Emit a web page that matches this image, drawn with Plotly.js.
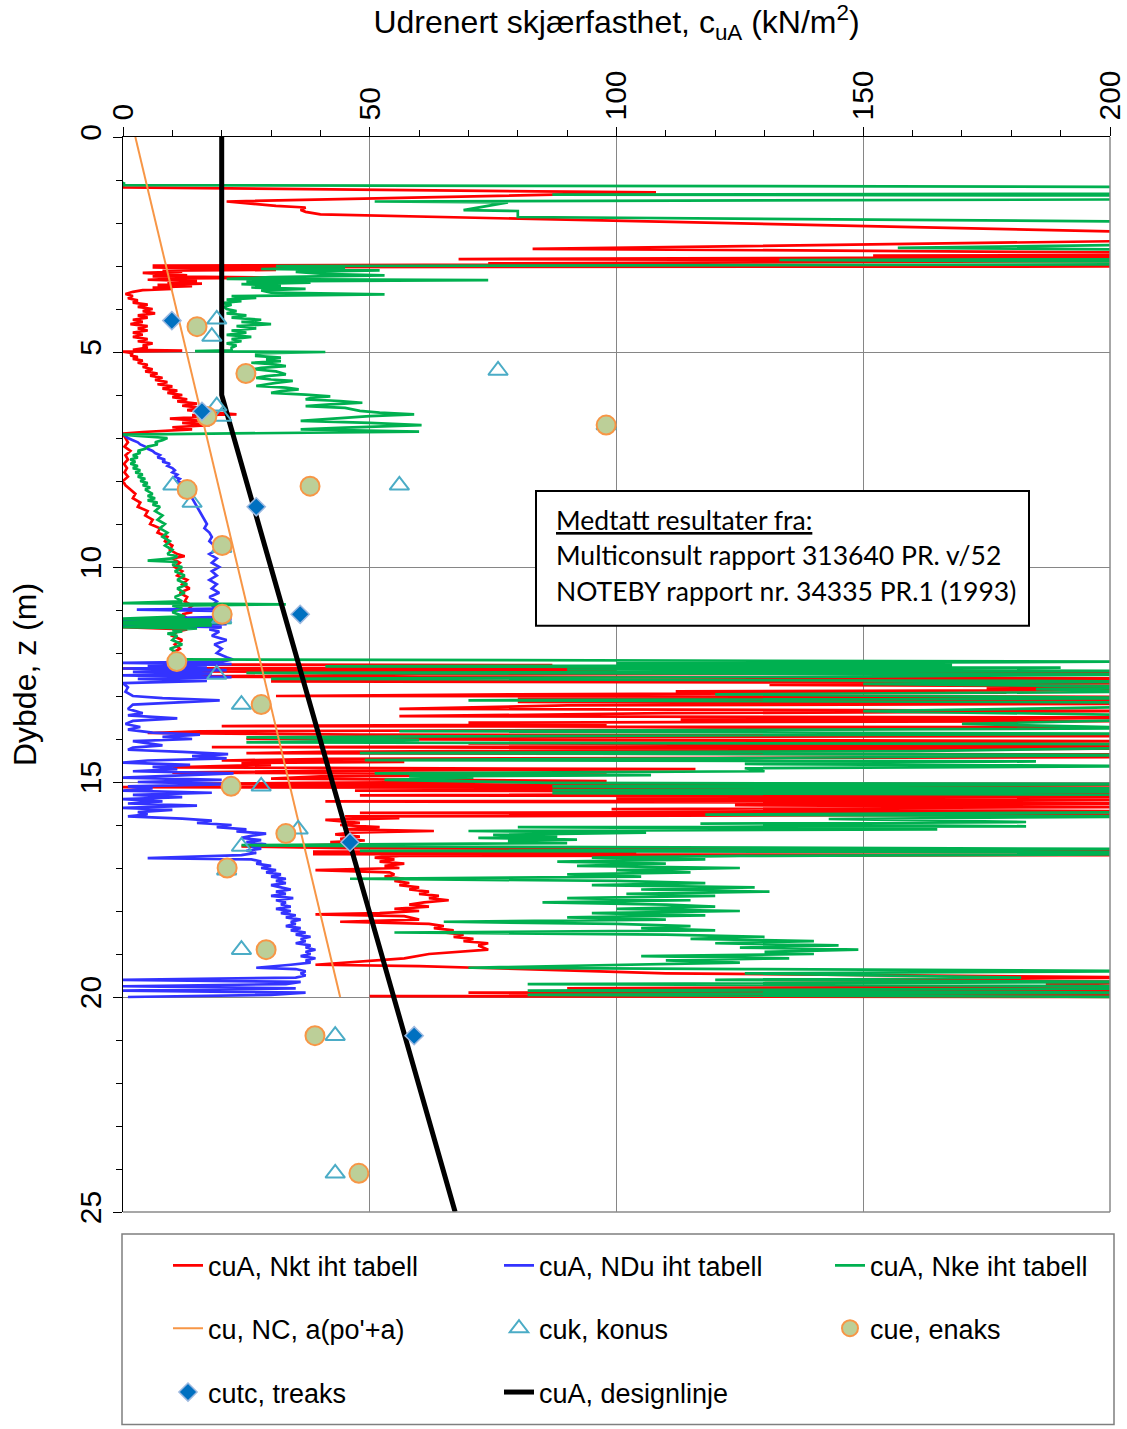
<!DOCTYPE html>
<html>
<head>
<meta charset="utf-8">
<script src="https://cdn.plot.ly/plotly-3.0.1.min.js"></script>
<style>html,body{margin:0;padding:0;background:#fff;}#chart{width:1127px;height:1429px;}</style>
</head>
<body>
<div id="chart"></div>
<script>
// ---- Data: [depth (m), cuA (kN/m2)] ----
const nkt = [
[1.12,0],[1.17,0],[1.29,108],[1.50,21],[1.60,31],[1.64,37],[1.70,36],[1.74,37],[1.80,40],[2.22,210],[2.41,210],[2.60,83],[2.69,210],[2.75,210],[2.76,152],[2.79,210],[2.84,68],[2.88,210],[2.94,74],[2.96,108],[2.99,6],[3.01,210],[3.03,6],
[3.05,14],[3.07,9],[3.09,31],[3.11,8],[3.13,12],[3.16,4],[3.19,10],[3.22,13],[3.24,6],[3.27,32],[3.29,12],[3.32,5],[3.35,15],[3.38,9],[3.41,16],[3.44,7],[3.47,14],[3.50,6],[3.53,10],[3.56,4],[3.60,2],[3.65,0.5],[3.70,2],[3.75,1],[3.80,3],[3.85,2],[3.90,5],[3.95,3],[4.00,6],[4.05,4],[4.10,6.5],[4.15,3],[4.20,5],[4.25,2],[4.30,4],[4.35,1.5],[4.40,5],[4.45,3],[4.50,5],[4.55,2],[4.60,4],[4.65,2],[4.70,5],[4.75,3],[4.80,6],[4.85,4],[4.90,5],[4.95,2],[4.97,12],[4.99,0],[5.03,2],
[5.08,1.5],[5.12,3],[5.16,2],[5.20,4],[5.25,3],[5.30,5],[5.35,4],[5.40,6],[5.45,4.5],[5.50,7],[5.55,5.5],[5.60,8],[5.65,6.5],[5.70,9],[5.75,7],[5.80,10],[5.85,8],[5.90,11],[5.95,9],[6.00,12],[6.05,10],[6.10,13],[6.15,11],[6.20,15],[6.25,12],[6.30,16],[6.35,13],[6.40,17],[6.45,23],[6.47,14],[6.50,17],[6.55,9.5],[6.60,16],[6.65,12],[6.70,17.6],[6.75,10],[6.80,14],[6.86,4],[6.90,0],
[7.00,0.5],[7.10,1],[7.20,0.3],[7.30,1.5],[7.40,0.5],[7.50,1],[7.60,0.2],[7.70,0.8],[7.80,0.3],[7.90,1],[8.00,0],[8.10,0.5],[8.20,1.5],[8.30,2.5],[8.40,2],[8.50,3.5],[8.60,3],[8.70,5],[8.80,4.5],[8.90,6],[9.00,5.5],[9.10,7.5],[9.20,7],[9.30,9],[9.40,8.5],[9.50,10],[9.60,9.5],[9.70,11],[9.75,12.5],[9.80,10],[9.90,11.5],[10.00,10.5],[10.10,12],[10.20,11],[10.30,13],[10.40,12],[10.50,13.5],[10.60,11.5],[10.70,13],[10.80,12.5],[10.90,14],[11.00,13],[11.05,14],[11.10,12],[11.20,13],[11.25,0],[11.28,14],[11.32,0],[11.35,12],[11.40,0],[11.45,13],[11.50,11],[11.60,10],[11.70,12],[11.80,10.5],[11.90,11.5],[12.00,10],[12.10,12],[12.20,11],
[12.25,20],[12.27,17],[12.28,87],[12.30,47],[12.33,114],[12.36,0],[12.40,100],[12.43,14],[12.47,210],[12.50,60],[12.55,11.5],[12.59,210],[12.62,120],[12.66,30],[12.70,210],[12.74,131],[12.78,210],[12.82,175],[12.86,210],[12.89,112],[12.92,179],[12.96,80],[13.00,31],[13.02,210],[13.06,80],[13.10,210],[13.14,80],[13.18,210],[13.22,90],[13.30,56],[13.35,210],[13.40,110],[13.47,56],[13.50,210],[13.55,113],[13.58,210],[13.62,70],[13.66,98],[13.70,20],[13.73,210],[13.78,120],[13.82,15.6],[13.86,5],[13.90,48],[13.93,210],[13.96,30],[14.00,25],[14.05,210],[14.10,70],[14.15,210],[14.19,18],[14.22,210],[14.27,92],[14.30,40],[14.33,25],[14.36,210],[14.42,210],[14.46,42],[14.50,20],[14.53,57],[14.56,24],[14.60,30],[14.66,10],[14.70,116],[14.74,40],[14.78,10],[14.83,98],[14.87,40],[14.92,30],[14.98,98],[15.02,37],[15.05,15],[15.08,210],[15.12,0],[15.15,210],[15.20,47],[15.25,210],[15.31,48],[15.34,210],[15.38,100],[15.42,210],[15.45,41],[15.50,210],[15.54,124],[15.58,210],[15.63,99],[15.68,210],[15.72,48],[15.76,210],[15.80,45],[15.84,56],[15.88,41],[15.95,48],[16.00,44],[16.05,52],[16.10,45],[16.14,63],[16.18,46],[16.22,43],[16.27,48],[16.32,44],[16.36,49],[16.40,42],[16.45,47],[16.50,24],[16.54,45],[16.58,210],[16.62,38.5],[16.65,104],[16.68,38.5],[16.70,210],[16.72,56],[16.76,51],[16.80,55],[16.85,52],[16.90,57],[16.95,53],[17.00,56],[17.05,39],[17.10,54],
[17.15,55],[17.20,53],[17.25,57],[17.30,55],[17.35,58],[17.40,56],[17.45,60],[17.50,58],[17.55,62],[17.60,60],[17.65,64],[17.70,62],[17.75,66],[17.80,61],[17.85,58],[17.90,62],[17.95,55],[18.00,60],[18.05,52],[18.08,39],[18.12,57],[18.20,60],[18.25,44],[18.30,62],[18.35,65],[18.40,63],[18.45,67],[18.50,65],[18.55,69],[18.60,67],[18.65,71],[18.70,69],[18.75,74],[18.80,72],[18.90,74],[18.95,68],[19.00,62],[19.10,57],[19.25,39],[19.28,60],[19.35,80],[19.45,110],[19.55,210],[19.60,130],[19.65,210],[19.70,187],[19.75,210],[19.80,90],[19.85,210],[19.90,70],[19.95,210],[19.98,50],[20.00,210]
];

const ndu = [
[6.90,0],[6.95,0.5],[7.00,1],[7.05,2],[7.10,3],[7.15,3.5],[7.20,4.5],[7.25,5],[7.30,6],[7.35,6.5],[7.40,7.5],[7.45,7],[7.50,8.5],[7.55,8],[7.60,9.5],[7.65,9],[7.70,10],[7.75,10.5],[7.80,10],[7.85,11],[7.90,10.5],[7.95,11.5],[8.00,11],[8.05,12],[8.10,12.5],[8.20,13],[8.30,13.5],[8.40,14],[8.50,14.5],[8.60,15],[8.70,15.5],[8.80,16],[8.90,16.5],[9.00,17],[9.10,16.5],[9.20,17.5],[9.30,18],[9.40,17.5],[9.50,18.5],[9.60,19],[9.70,17.5],[9.80,19],[9.90,18],[10.00,19.5],[10.10,18],[10.20,19],[10.30,17.5],[10.40,19],[10.50,18],[10.60,19.5],[10.70,17.5],[10.80,19],[10.90,18],[10.97,20],[10.99,2.8],[11.02,18.5],[11.08,20],[11.12,19],[11.16,20.5],[11.20,5],[11.22,22],[11.25,0],[11.28,20],[11.30,0],[11.33,21],[11.36,0],[11.40,20],[11.45,17.5],[11.50,19.5],[11.60,18],[11.70,21],[11.80,18.5],[11.90,20],[12.00,19],[12.10,21],[12.15,22.3],
[12.20,20],[12.23,0],[12.26,22],[12.30,5],[12.33,17],[12.36,0],[12.40,21],[12.44,2],[12.48,18],[12.52,0],[12.56,22],[12.60,3],[12.65,17],[12.70,0],[12.80,1],[12.90,0.5],[13.00,2],[13.05,8],[13.10,19.6],[13.15,12],[13.20,2],[13.30,1],[13.40,4],[13.45,1],[13.52,11],[13.58,2],[13.65,0.5],[13.72,3.5],[13.78,1],[13.85,6],[13.90,15.6],[13.95,8],[14.00,14],[14.05,2],[14.10,5],[14.15,8],[14.20,2],[14.25,1],[14.30,12],[14.35,21.3],[14.40,14],[14.45,21],[14.50,5],[14.55,0],[14.60,13.6],[14.65,6],[14.70,11],[14.75,2],[14.80,22.4],[14.85,10],[14.90,0],[14.95,20],[15.00,3],[15.05,22],[15.10,1],[15.15,6],[15.20,0],[15.25,18],[15.30,2],[15.35,12],[15.40,0],[15.45,8],[15.50,1],[15.55,15],[15.60,0],[15.65,10],[15.70,3],[15.75,5],[15.80,1],[15.85,12],[15.90,18],[15.95,15],[16.00,22],[16.05,19],[16.10,25],[16.15,23],[16.20,29],[16.25,26],[16.30,24],[16.35,28],[16.40,25],[16.45,29],[16.50,26],[16.55,28],[16.60,25],[16.65,27],[16.70,24],[16.77,5],[16.80,26],[16.85,28],[16.90,27],[16.95,30],[17.00,28],[17.05,31],[17.10,29],[17.15,32],[17.20,30],[17.25,33],[17.30,31],[17.35,33],[17.40,30],[17.45,32],[17.50,34],[17.55,31],[17.60,33],[17.65,30],[17.70,34.5],[17.75,31],[17.80,33],[17.85,32],[17.90,34],[17.95,31],[18.00,34],[18.05,32],[18.10,35],[18.15,33],[18.20,36],[18.25,34],[18.30,35],[18.35,33],[18.40,36],[18.45,34],[18.50,37],[18.55,35],[18.60,38],[18.65,36],[18.70,37],[18.75,35],[18.80,38],[18.85,37],[18.90,39],[18.95,37],[19.00,38],[19.05,36],[19.10,39],[19.15,37],[19.20,38],[19.25,34],[19.32,27],[19.35,35],[19.40,37],[19.45,36],[19.50,37],[19.55,35],[19.60,0],[19.65,36],[19.70,33],[19.75,0],[19.80,35],[19.85,0],[19.90,37],[19.95,30],[20.00,1]
];

const nke = [
[1.05,0.3],[1.12,0],[1.16,210],[1.32,210],[1.34,87],[1.36,210],[1.45,210],[1.50,51],[1.52,78],[1.70,69],[1.72,80],[1.86,80],[1.97,210],[2.50,210],[2.58,157],[2.62,210],[2.84,210],[2.86,133],[2.90,210],[2.96,210],
[3.00,31],[3.04,45],[3.07,28],[3.10,52],[3.14,35],[3.18,40],[3.22,53],[3.26,30],[3.30,21],[3.33,74],[3.36,25],[3.39,38],[3.42,24],[3.46,32],[3.50,26],[3.53,37],[3.57,28],[3.62,30],[3.66,53],[3.70,22],[3.74,27],[3.78,21],[3.82,24],[3.86,20],[3.90,22],[3.95,20.5],[4.00,21],[4.05,23],[4.10,21],[4.15,25],[4.20,22],[4.25,28],[4.30,24],[4.35,30],[4.40,23],[4.45,27],[4.50,22],[4.55,25],[4.60,21],[4.65,26],[4.70,22],[4.75,24],[4.80,21],[4.85,23],[4.90,22],[4.96,22],[4.98,14.6],[5.00,41],[5.03,27],
[5.09,27],[5.13,32],[5.17,29],[5.21,32],[5.25,26],[5.29,31],[5.33,33],[5.37,28],[5.40,26.4],[5.45,31],[5.52,33],[5.56,29],[5.60,27],[5.64,30],[5.67,34.4],[5.72,31],[5.79,27],[5.83,33],[5.87,35.6],[5.91,32],[5.95,30],[5.99,37],[6.03,42],[6.07,38],[6.10,37],[6.14,44],[6.18,48.5],[6.22,42],[6.26,37],[6.30,45],[6.37,48],[6.41,52],[6.45,59],[6.49,50],[6.53,44],[6.57,40],[6.60,36],[6.65,50],[6.70,60.5],[6.76,45],[6.80,36],[6.85,60],[6.92,0],
[6.95,3],[7.00,9],[7.05,8],[7.10,6.5],[7.15,7],[7.20,5],[7.25,4.5],[7.30,3],[7.35,3.5],[7.40,2],[7.45,3],[7.50,1.5],[7.55,2.5],[7.60,1.5],[7.65,3],[7.70,2],[7.75,3.5],[7.80,2.5],[7.85,4],[7.90,3],[7.95,4.5],[8.00,3.5],[8.05,5],[8.10,4],[8.15,5.5],[8.20,4.5],[8.30,6],[8.35,5],[8.40,6.5],[8.45,5],[8.50,7],[8.55,6],[8.60,7.5],[8.70,6.5],[8.80,8],[8.90,7],[9.00,8.5],[9.10,7.5],[9.20,9],[9.30,8],[9.40,9.5],[9.50,8.5],[9.60,10],[9.70,9],[9.75,11],[9.80,10],[9.85,5],[9.88,11],[9.95,10],[10.00,12],[10.10,10.5],[10.20,12.5],[10.30,11],[10.40,13],[10.50,11],[10.60,12.5],[10.70,10.5],[10.80,12],[10.84,0],[10.87,33],[10.90,10],[10.95,12],[11.05,10],[11.15,12.5],[11.20,0],[11.23,20],[11.27,0],[11.30,22],[11.33,0],[11.36,18],[11.40,0],[11.43,15],[11.47,10],[11.50,12],[11.55,9],[11.60,11],[11.70,10],[11.80,12],[11.90,9.5],[12.00,11],[12.10,10],[12.15,12],
[12.20,210],[12.24,100],[12.28,168],[12.31,41],[12.34,190],[12.38,90],[12.42,210],[12.46,25],[12.50,210],[12.55,148],[12.60,30],[12.66,210],[12.72,150],[12.78,210],[12.84,185],[12.90,210],[12.96,120],[13.05,210],[13.10,70],[13.15,210],[13.25,210],[13.35,150],[13.45,210],[13.55,210],[13.65,170],[13.75,210],[13.82,56],[13.88,210],[13.94,64],[13.96,25],[14.02,60],[14.08,25],[14.12,210],[14.20,210],[14.28,160],[14.33,48],[14.37,210],[14.45,120],[14.49,49],[14.52,185],[14.58,126],[14.63,210],[14.68,126],[14.75,130],[14.80,51],[14.84,107],[14.87,58],[14.90,71],[14.95,53],[14.98,71],[15.02,87],[15.05,210],[15.10,87],[15.15,210],[15.19,87],[15.22,210],[15.26,87],[15.30,210],[15.40,210],[15.50,210],[15.60,210],[15.70,210],[15.76,118],[15.80,210],[15.86,143],[15.93,183],[15.97,117],[16.03,183],[16.05,80],[16.10,165],[16.14,70],[16.18,106],[16.23,75],[16.27,88],[16.30,72],[16.34,92],[16.37,78],[16.42,90],[16.47,24],[16.50,60],[16.56,210],[16.60,48],[16.64,210],[16.68,210],[16.72,125],[16.76,95],[16.80,118],[16.85,88],[16.90,110],[16.95,92],[17.00,125],[17.05,100],[17.10,115],[17.15,90],[17.20,105],[17.25,46],[17.30,100],[17.35,118],[17.40,95],[17.45,128],[17.50,105],[17.55,131],[17.60,102],[17.65,120],[17.70,90],[17.75,115],[17.80,85],[17.85,110],[17.90,120],[17.95,100],[18.00,125],[18.05,95],[18.10,118],[18.15,90],[18.20,110],[18.25,65],[18.30,100],[18.35,115],[18.40,105],[18.45,120],[18.50,55],[18.55,110],[18.60,130],[18.65,115],[18.70,140],[18.75,120],[18.80,145],[18.85,125],[18.90,149],[18.95,130],[19.00,140],[19.05,105],[19.10,135],[19.15,110],[19.20,125],[19.25,100],[19.32,70],[19.35,126],[19.40,210],[19.45,126],[19.50,150],[19.55,182],[19.60,120],[19.65,210],[19.70,82],[19.75,210],[19.80,210],[19.85,82],[19.90,210],[19.95,82],[20.00,210]
];

const ncDepth = [0, 20];
const ncValue = [2.5, 44];

const designDepth = [0, 6, 25];
const designValue = [20, 20, 67.3];

const konusDepth = [4.24, 4.64, 6.26, 6.5, 5.43, 6.7, 8.1, 8.1, 8.5, 9.55, 11.2, 12.5, 13.2, 15.1, 16.1, 16.5, 17.05, 18.9, 20.9, 24.1];
const konusValue = [19, 18, 19, 20, 76, 97.9, 56, 10.1, 14, 20, 20, 19, 24, 28, 35.5, 24, 21, 24, 43, 43];

const enaksDepth = [4.41, 5.5, 6.5, 6.7, 8.12, 8.2, 9.5, 11.1, 12.2, 13.2, 15.1, 16.2, 17.0, 18.9, 20.9, 24.1];
const enaksValue = [15, 24.9, 17, 97.9, 37.9, 13, 20.1, 20.1, 10.9, 28, 21.9, 33, 21.1, 29, 38.9, 47.8];

const treaksDepth = [4.27, 6.38, 8.6, 11.1, 16.4, 20.9];
const treaksValue = [9.9, 16, 27, 35.9, 46, 59];

const seriesNames = ['cuA, Nkt iht tabell', 'cuA, NDu iht tabell', 'cuA, Nke iht tabell',
  "cu, NC, a(po'+a)", 'cuk, konus', 'cue, enaks', 'cutc, treaks', 'cuA, designlinje'];
const xTitle = 'Udrenert skjærfasthet, c<sub>uA</sub> (kN/m<sup>2</sup>)';
const yTitle = 'Dybde, z (m)';
const noteLines = ['<span style="text-decoration:underline">Medtatt resultater fra:</span>',
  'Multiconsult rapport 313640 PR. v/52', 'NOTEBY rapport nr. 34335 PR.1 (1993)'];

// ---- Build ----
const dep = a => a.map(p => p[0]);
const val = a => a.map(p => p[1]);
const F = 'Liberation Sans, Arial, sans-serif';

const traces = [
  {type:'scatter', mode:'lines', name:seriesNames[0], x:val(nkt), y:dep(nkt), line:{color:'#FF0000', width:2.7}, legend:'legend'},
  {type:'scatter', mode:'lines', name:seriesNames[1], x:val(ndu), y:dep(ndu), line:{color:'#3333FF', width:2.7}, legend:'legend2'},
  {type:'scatter', mode:'lines', name:seriesNames[2], x:val(nke), y:dep(nke), line:{color:'#00B050', width:2.7}, legend:'legend3'},
  {type:'scatter', mode:'lines', name:seriesNames[3], x:ncValue, y:ncDepth, line:{color:'#F79646', width:2}, legend:'legend4'},
  {type:'scatter', mode:'lines', name:seriesNames[7], x:designValue, y:designDepth, line:{color:'#000000', width:5}, legend:'legend8'},
  {type:'scatter', mode:'markers', name:seriesNames[4], x:konusValue, y:konusDepth, marker:{symbol:'triangle-up-open', size:17, color:'#4BACC6', line:{width:2, color:'#4BACC6'}}, legend:'legend5'},
  {type:'scatter', mode:'markers', name:seriesNames[5], x:enaksValue, y:enaksDepth, marker:{symbol:'circle', size:19, color:'#BCCF98', line:{width:2, color:'#F79646'}}, legend:'legend6'},
  {type:'scatter', mode:'markers', name:seriesNames[6], x:treaksValue, y:treaksDepth, marker:{symbol:'diamond', size:14, color:'#0070C0', line:{width:1.5, color:'#9DB9E0'}}, legend:'legend7'}
];

const pyToPaper = py => 1 - (py - 137) / 1078;
const pxToPaper = px => (px - 123) / 987;

// one legend entry per cell of the 3-column legend box
const legendCells = {legend:[0,0], legend2:[1,0], legend3:[2,0], legend4:[0,1], legend5:[1,1], legend6:[2,1], legend7:[0,2], legend8:[1,2]};
const colTextPx = [208, 539, 870];
const rowCenterPy = [1269, 1332, 1396];

const layout = {
  width:1127, height:1429,
  margin:{l:123, r:17, t:137, b:214},
  paper_bgcolor:'#fff', plot_bgcolor:'#fff',
  showlegend:true,
  xaxis:{range:[0,200], side:'top', tick0:0, dtick:50, tickangle:-90, ticks:'outside', ticklen:9, tickwidth:1, tickcolor:'#000',
    showline:true, linecolor:'#000', linewidth:1.5, showgrid:true, gridcolor:'#868686', gridwidth:1, zeroline:false,
    tickfont:{family:F, size:30, color:'#000'},
    minor:{dtick:10, ticks:'outside', ticklen:6, tickcolor:'#000', showgrid:false},
    title:{text:xTitle, font:{family:F, size:32, color:'#000'}, standoff:27}},
  yaxis:{range:[25,0], tick0:0, dtick:5, tickangle:-90, ticks:'outside', ticklen:9, tickwidth:1, tickcolor:'#000',
    showline:true, linecolor:'#000', linewidth:1.5, showgrid:true, gridcolor:'#868686', gridwidth:1, zeroline:false,
    tickfont:{family:F, size:30, color:'#000'},
    minor:{dtick:1, ticks:'outside', ticklen:6, tickcolor:'#000', showgrid:false},
    title:{text:yTitle, font:{family:F, size:32, color:'#000'}, standoff:27}},
  shapes:[
    {type:'line', xref:'paper', yref:'paper', x0:1, x1:1, y0:0, y1:1, line:{color:'#8a8a8a', width:1.5}},
    {type:'line', xref:'paper', yref:'paper', x0:0, x1:1, y0:0, y1:0, line:{color:'#8a8a8a', width:1.5}},
    {type:'rect', xref:'paper', yref:'paper', x0:pxToPaper(536), x1:pxToPaper(1029), y0:pyToPaper(627), y1:pyToPaper(492),
      line:{color:'#000', width:2}, fillcolor:'#fff', layer:'above'},
    {type:'rect', xref:'paper', yref:'paper', x0:pxToPaper(122), x1:pxToPaper(1114), y0:pyToPaper(1428), y1:pyToPaper(1237),
      line:{color:'#7f7f7f', width:1.5}, fillcolor:'rgba(0,0,0,0)'}
  ],
  annotations:[521, 556, 592].map((py, i) => ({
    xref:'paper', yref:'paper', x:pxToPaper(554), y:pyToPaper(py), xanchor:'left', yanchor:'middle',
    text:noteLines[i], showarrow:false, font:{family:'Lato, Noto Sans, sans-serif', size:26.5, color:'#000'}
  }))
};
Object.keys(legendCells).forEach(k => {
  const [c, r] = legendCells[k];
  layout[k] = {orientation:'v', x:pxToPaper(colTextPx[c] - 40), xanchor:'left', y:pyToPaper(rowCenterPy[r]), yanchor:'middle',
    font:{family:F, size:27, color:'#000'}, bgcolor:'rgba(0,0,0,0)', borderwidth:0};
});

Plotly.newPlot('chart', traces, layout, {displayModeBar:false, staticPlot:true});
</script>
</body>
</html>
